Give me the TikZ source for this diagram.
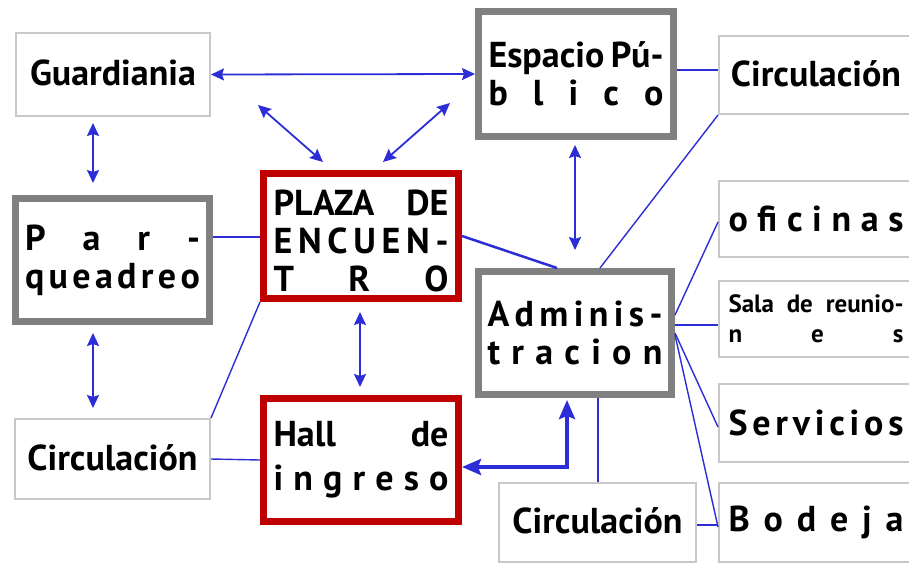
\documentclass[tikz,border=0pt]{standalone}
\usepackage{fontspec}
\setmainfont{PT Sans}
\usetikzlibrary{arrows.meta,calc}
\definecolor{lnblue}{RGB}{45,45,215}
\definecolor{boxred}{RGB}{190,0,0}
\definecolor{boxgray}{RGB}{128,128,128}
\definecolor{thingray}{RGB}{200,200,200}
\newcommand\distr[1]{\makebox[175pt][s]{#1}}
\begin{document}
\begin{tikzpicture}[x=1pt,y=-1pt,
  base/.style={inner sep=0pt, fill=white, align=center, text width=175pt,
    font=\bfseries\fontsize{36}{38}\selectfont},
  thinbox/.style={base, draw=thingray, line width=2pt},
  graybox/.style={base, draw=boxgray, line width=7pt},
  redbox/.style={base, draw=boxred, line width=7pt},
  tip/.tip={Stealth[length=13pt,width=12pt,inset=2pt]},
  bigtip/.tip={Stealth[length=19pt,width=16pt,inset=3pt]},
  arr/.style={draw=lnblue, line width=1.8pt, tip-tip},
  bigarr/.style={draw=lnblue, line width=3.5pt, bigtip-bigtip},
  conn/.style={draw=lnblue, line width=1.4pt},
]
\useasboundingbox (0,0) rectangle (909,565);
\fill[white] (0,0) rectangle (909,565);

\node[thinbox, minimum width=194pt, minimum height=83pt] (guard) at (113,74.5) {\raisebox{4pt}{Guardiania}};
\node[graybox, minimum width=195pt, minimum height=125pt] (esp) at (576,74)
  {\distr{Espacio\hfill Pú-}\\\distr{b\hfill l\hfill i\hfill c\hfill o}};
\node[thinbox, minimum width=194pt, minimum height=78pt] (circTR) at (816,75) {\raisebox{3pt}{Circulación}};
\node[graybox, minimum width=194pt, minimum height=123pt] (parq) at (112.5,260)
  {\distr{P\hfill a\hfill r\hfill -}\\\distr{q\hfill u\hfill e\hfill a\hfill d\hfill r\hfill e\hfill o}};
\node[redbox, minimum width=195pt, minimum height=125pt] (plaza) at (361,236)
  {\distr{\rule{0pt}{36pt}PLAZA\hfill DE}\\\distr{E\hfill N\hfill C\hfill U\hfill E\hfill N\hfill -}\\\distr{T\hfill R\hfill O}};
\node[graybox, minimum width=193pt, minimum height=123pt] (admin) at (575,333)
  {\distr{A\hfill d\hfill m\hfill i\hfill n\hfill i\hfill s\hfill -}\\\distr{t\hfill r\hfill a\hfill c\hfill i\hfill o\hfill n}};
\node[thinbox, minimum width=194pt, minimum height=76pt] (ofic) at (816,219)
  {\distr{o\hfill fi\hfill c\hfill i\hfill n\hfill a\hfill s}};
\node[thinbox, minimum width=194pt, minimum height=76pt, font=\bfseries\fontsize{25}{30}\selectfont] (sala) at (816,319)
  {\distr{Sala\hfill de\hfill reunio-}\\\distr{n\hfill e\hfill s}};
\node[thinbox, minimum width=194pt, minimum height=78pt] (serv) at (816,423)
  {\distr{S\hfill e\hfill r\hfill v\hfill i\hfill c\hfill i\hfill o\hfill s}};
\node[thinbox, minimum width=194pt, minimum height=79pt] (bod) at (816,522.5)
  {\distr{B\hfill o\hfill d\hfill e\hfill j\hfill a}};
\node[thinbox, minimum width=197pt, minimum height=79pt] (circB) at (597.5,522.5) {\raisebox{3pt}{Circulación}};
\node[redbox, minimum width=195pt, minimum height=123pt, font=\bfseries\fontsize{36}{44}\selectfont] (hall) at (361,460)
  {\distr{Hall\hfill de}\\\distr{i\hfill n\hfill g\hfill r\hfill e\hfill s\hfill o}};
\node[thinbox, minimum width=195pt, minimum height=80pt] (circL) at (112.5,459) {\raisebox{3pt}{Circulación}};

% arrows
\draw[arr] (guard.east) -- (esp.west);
\draw[arr] ($(guard.south)+(-20,6)$) -- ($(parq.north)+(-19.5,-12)$);
\draw[arr] ($(parq.south)+(-19.5,8)$) -- ($(circL.north)+(-19.5,-10)$);
\coordinate (d1) at (258,105);
\coordinate (d2) at (450,103);
\draw[arr] (d1) -- ($(plaza.north)+(-38,-8)$);
\draw[arr] (d2) -- ($(plaza.north)+(22,-8)$);
\draw[arr] ($(esp.south)+(-1,5)$) -- ($(admin.north)+(0,-18)$);
\draw[arr] ($(plaza.south)+(-1,10)$) -- ($(hall.north)+(-1,-8)$);
\draw[bigarr] ($(hall.east)+(0,7)$) -| ($(admin.south)+(-8,2)$);

% plain connectors
\draw[conn] ($(esp.east)+(0,-4)$) -- ($(circTR.west)+(0,-5)$);
\draw[conn] (circTR.south west) -- ($(admin.north)+(25,0)$);
\draw[conn] ($(parq.east)+(0,-23)$) -- ($(plaza.west)+(0,1)$);
\draw[conn, line width=2.5pt] (plaza.east) -- ($(admin.north)+(-18,0)$);
\draw[conn] (plaza.south west) -- (circL.north east);
\draw[conn] (circL.east) -- (hall.west);
\draw[conn] ($(admin.south)+(23,0)$) -- ($(circB.north)+(0.5,0)$);
\draw[conn] ($(circB.east)+(0,2.5)$) -- ($(bod.west)+(0,2.5)$);
\draw[conn] ($(admin.east)+(0,-18)$) -- ($(ofic.west)+(0,3)$);
\draw[conn] ($(admin.east)+(0,-8)$) -- ($(sala.west)+(0,6)$);
\draw[conn] (admin.east) -- ($(serv.west)+(0,4)$);
\draw[conn] ($(admin.east)+(0,2)$) -- ($(bod.west)+(0,4.5)$);
\end{tikzpicture}
\end{document}
